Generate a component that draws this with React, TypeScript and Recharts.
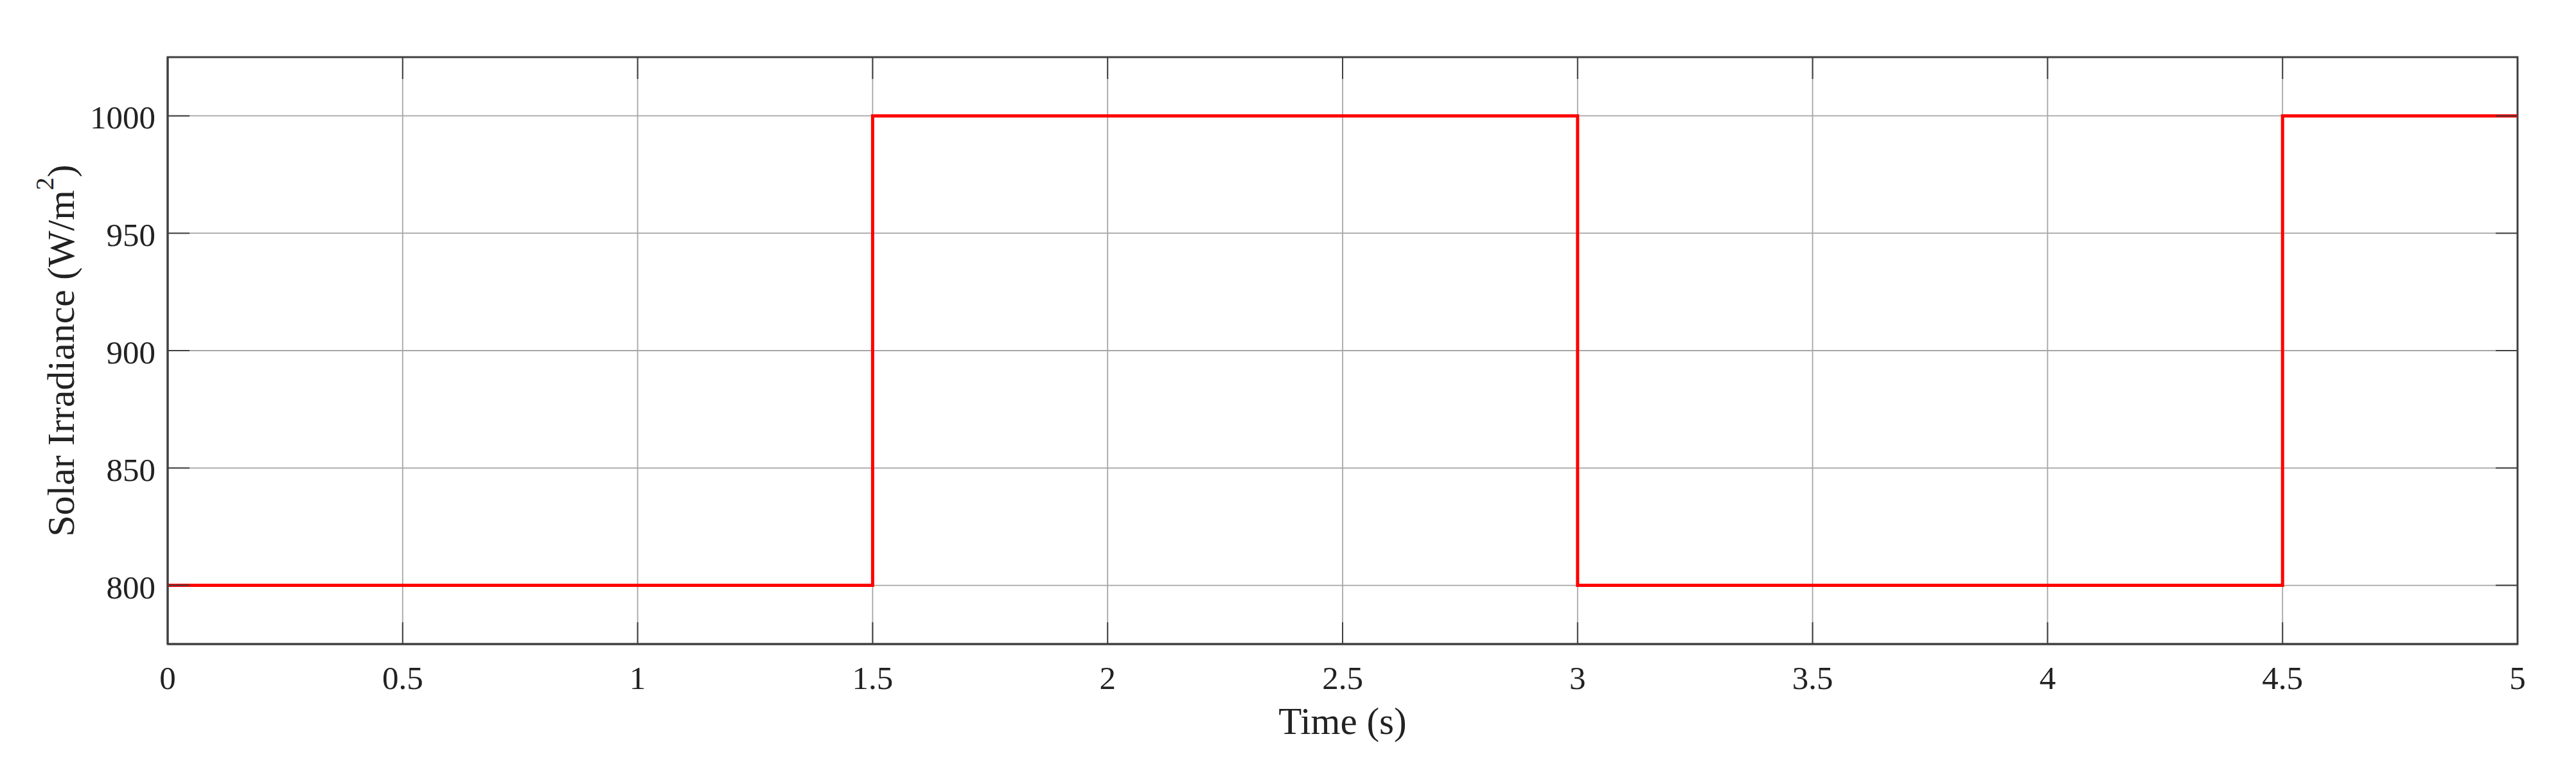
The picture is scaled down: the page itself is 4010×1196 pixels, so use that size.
import React from 'react';
import { LineChart, Line, XAxis, YAxis, CartesianGrid, Label, ReferenceArea } from 'recharts';

const timeValues = [0, 1.5, 3, 4.5, 5];
const irradianceValues = [800, 1000, 800, 1000, 1000];
const xTicks = [0, 0.5, 1, 1.5, 2, 2.5, 3, 3.5, 4, 4.5, 5];
const yTicks = [800, 850, 900, 950, 1000];
const xDomain = [0, 5];
const yDomain = [775, 1025];

const data = timeValues.map((t, i) => ({ t, v: irradianceValues[i] }));

const W = 4000;
const H = 1190;
const M = { top: 89, right: 81, left: 0, bottom: 67 };
const Y_AXIS_W = 261;
const X_AXIS_H = 120;
const PLOT_LEFT = M.left + Y_AXIS_W;
const PLOT_RIGHT = W - M.right;
const PLOT_TOP = M.top;
const PLOT_BOTTOM = H - M.bottom - X_AXIS_H;
const FONT = '"Liberation Serif", "Times New Roman", serif';
const TICK_LEN = 34;
const AXIS_COLOR = '#404040';
const TEXT_COLOR = '#222';

const XTick = (props: any) => {
  const { x, y, payload } = props;
  return (
    <g>
      <line x1={x} x2={x} y1={PLOT_BOTTOM} y2={PLOT_BOTTOM - TICK_LEN} stroke={AXIS_COLOR} strokeWidth={2} />
      <line x1={x} x2={x} y1={PLOT_TOP} y2={PLOT_TOP + TICK_LEN} stroke={AXIS_COLOR} strokeWidth={2} />
      <text x={x} y={y + 70} textAnchor="middle" fontFamily={FONT} fontSize={51} fill={TEXT_COLOR}>
        {payload.value}
      </text>
    </g>
  );
};

const YTick = (props: any) => {
  const { x, y, payload } = props;
  return (
    <g>
      <line x1={PLOT_LEFT} x2={PLOT_LEFT + TICK_LEN} y1={y} y2={y} stroke={AXIS_COLOR} strokeWidth={2} />
      <line x1={PLOT_RIGHT} x2={PLOT_RIGHT - TICK_LEN} y1={y} y2={y} stroke={AXIS_COLOR} strokeWidth={2} />
      <text x={x - 19} y={y + 20} textAnchor="end" fontFamily={FONT} fontSize={51} fill={TEXT_COLOR}>
        {payload.value}
      </text>
    </g>
  );
};

const XLabel = (props: any) => {
  const vb = props.viewBox || {};
  const cx = vb.x + vb.width / 2;
  return (
    <text x={cx} y={PLOT_BOTTOM + 140} textAnchor="middle" fontFamily={FONT} fontSize={59} fill={TEXT_COLOR}>
      Time (s)
    </text>
  );
};

const YLabel = (props: any) => {
  const vb = props.viewBox || {};
  const cy = vb.y + vb.height / 2;
  const bx = 115;
  return (
    <text
      x={bx}
      y={cy}
      transform={`rotate(-90, ${bx}, ${cy})`}
      textAnchor="middle"
      fontFamily={FONT}
      fontSize={60}
      fill={TEXT_COLOR}
    >
      <tspan>Solar Irradiance (W/m</tspan>
      <tspan dy={-32} fontSize={40}>2</tspan>
      <tspan dy={32}>)</tspan>
    </text>
  );
};

export default function App() {
  return (
    <div style={{ position: 'absolute', left: 0, top: 0, background: '#fff' }}>
      <LineChart width={W} height={H} data={data} margin={M}>
        <CartesianGrid stroke="#a6a6a6" strokeWidth={1.8} horizontalValues={yTicks} verticalValues={xTicks} />
        <XAxis
          dataKey="t"
          type="number"
          domain={xDomain}
          ticks={xTicks}
          height={X_AXIS_H}
          tickSize={0}
          tickMargin={0}
          tickLine={false}
          axisLine={{ stroke: AXIS_COLOR, strokeWidth: 3 }}
          tick={<XTick />}
          interval={0}
          label={<Label content={<XLabel />} />}
        />
        <YAxis
          type="number"
          domain={yDomain}
          ticks={yTicks}
          width={Y_AXIS_W}
          tickSize={0}
          tickMargin={0}
          tickLine={false}
          axisLine={{ stroke: AXIS_COLOR, strokeWidth: 3 }}
          tick={<YTick />}
          interval={0}
          allowDataOverflow
          label={<Label content={<YLabel />} />}
        />
        <Line
          type="stepAfter"
          dataKey="v"
          stroke="#ff0000"
          strokeWidth={5}
          dot={false}
          activeDot={false}
          isAnimationActive={false}
        />
        <ReferenceArea
          x1={xDomain[0]}
          x2={xDomain[1]}
          y1={yDomain[0]}
          y2={yDomain[1]}
          fill="none"
          fillOpacity={0}
          stroke={AXIS_COLOR}
          strokeWidth={3}
          ifOverflow="visible"
        />
      </LineChart>
    </div>
  );
}
